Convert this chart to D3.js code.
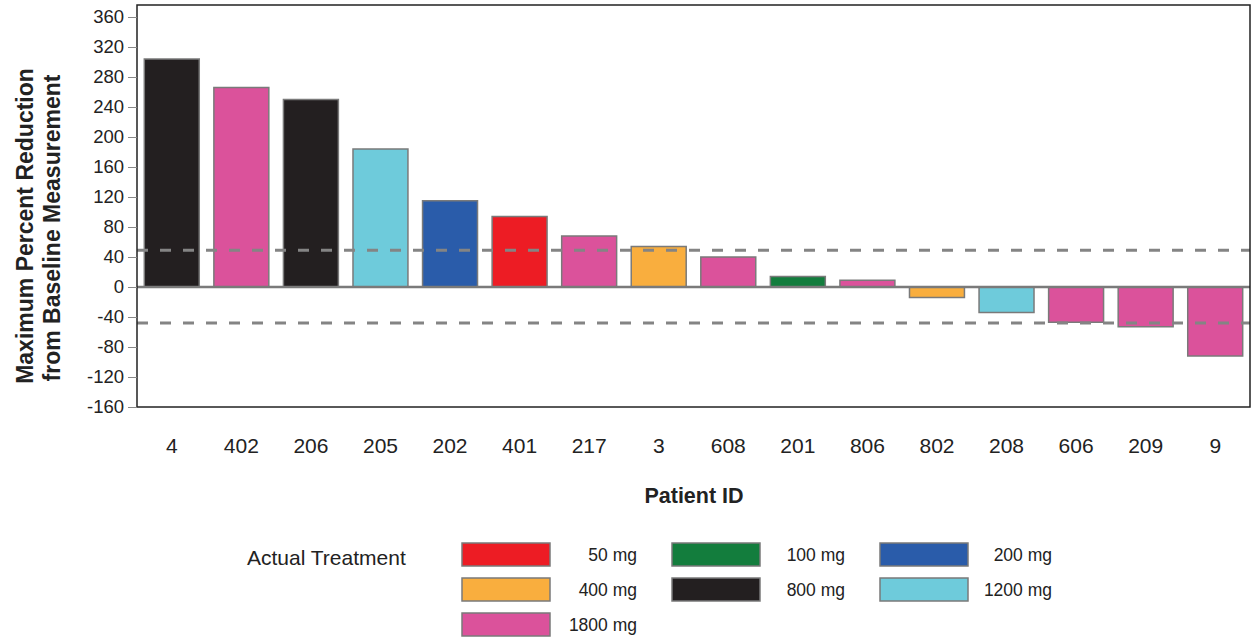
<!DOCTYPE html>
<html lang="en">
<head>
<meta charset="utf-8">
<title>Waterfall plot</title>
<script src="https://cdn.jsdelivr.net/npm/d3@7"></script>
<style>
body { margin: 0; background: #fff; font-family: "Liberation Sans", Arial, sans-serif; }
.tick text { font-family: "Liberation Sans", Arial, sans-serif; fill: #222; }
.axis-label { font-weight: bold; fill: #222; }
.legend text { fill: #222; }
</style>
</head>
<body>
<script>
// data
var patients = ["4", "402", "206", "205", "202", "401", "217", "3", "608", "201", "806", "802", "208", "606", "209", "9"];
var reduction = [304, 266, 250, 184, 115, 94, 68, 54, 40, 14, 9, -14, -34, -47, -53, -92];
var doses = ["800 mg", "1800 mg", "800 mg", "1200 mg", "200 mg", "50 mg", "1800 mg", "400 mg", "1800 mg", "100 mg", "1800 mg", "400 mg", "1200 mg", "1800 mg", "1800 mg", "1800 mg"];

var doseLevels = ["50 mg", "100 mg", "200 mg", "400 mg", "800 mg", "1200 mg", "1800 mg"];
var doseColors = ["#ed1c24", "#137d3d", "#2a5caa", "#f9ae3e", "#231f20", "#6ecbdb", "#db529b"];
var yTicks = [360, 320, 280, 240, 200, 160, 120, 80, 40, 0, -40, -80, -120, -160];
var thresholds = [49, -48];

var W = 1252, H = 641;
var plot = {left: 137, right: 1250, top: 5, bottom: 407};

var svg = d3.select("body").append("svg")
  .attr("width", W)
  .attr("height", H);

var color = d3.scaleOrdinal().domain(doseLevels).range(doseColors);

var x = d3.scaleBand()
  .domain(patients)
  .range([plot.left, plot.right])
  .paddingInner(0.21)
  .paddingOuter(0.105);

var y = d3.scaleLinear()
  .domain([-160, 376])
  .range([plot.bottom, plot.top]);

// bars
svg.append("g")
  .selectAll("rect")
  .data(patients)
  .enter()
  .append("rect")
    .attr("x", function(d) { return x(d); })
    .attr("width", x.bandwidth())
    .attr("y", function(d, i) { return y(Math.max(0, reduction[i])); })
    .attr("height", function(d, i) { return Math.abs(y(reduction[i]) - y(0)); })
    .attr("fill", function(d, i) { return color(doses[i]); })
    .attr("stroke", "#7a7a7a")
    .attr("stroke-width", 1.5);

// zero line
svg.append("line")
  .attr("x1", plot.left).attr("x2", plot.right)
  .attr("y1", y(0)).attr("y2", y(0))
  .attr("stroke", "#7a7a7a")
  .attr("stroke-width", 2.5);

// dashed response thresholds
svg.append("g")
  .selectAll("line")
  .data(thresholds)
  .enter()
  .append("line")
    .attr("x1", plot.left).attr("x2", plot.right)
    .attr("y1", function(d) { return y(d); })
    .attr("y2", function(d) { return y(d); })
    .attr("stroke", "#848484")
    .attr("stroke-width", 3)
    .attr("stroke-dasharray", "11,12");

// frame
svg.append("rect")
  .attr("x", plot.left).attr("y", plot.top)
  .attr("width", plot.right - plot.left)
  .attr("height", plot.bottom - plot.top)
  .attr("fill", "none")
  .attr("stroke", "#222")
  .attr("stroke-width", 1.5);

// y axis (plain hyphen for negatives, like the original)
var yAxis = d3.axisLeft(y)
  .tickValues(yTicks)
  .tickFormat(function(d) { return String(d); })
  .tickSize(9)
  .tickPadding(4);
var gy = svg.append("g")
  .attr("transform", "translate(" + plot.left + ",0)")
  .call(yAxis);
gy.select(".domain").remove();
gy.selectAll(".tick line").attr("stroke", "#888");
gy.selectAll(".tick text").style("font-size", "18.5px");

// x axis
var xAxis = d3.axisBottom(x).tickSize(0).tickPadding(0);
var gx = svg.append("g")
  .attr("transform", "translate(0,438)")
  .call(xAxis);
gx.select(".domain").remove();
gx.selectAll(".tick text").style("font-size", "21px");

// axis titles
svg.append("text")
  .attr("class", "axis-label")
  .attr("transform", "translate(33,226) rotate(-90)")
  .attr("text-anchor", "middle")
  .style("font-size", "23px")
  .text("Maximum Percent Reduction");

svg.append("text")
  .attr("class", "axis-label")
  .attr("transform", "translate(60,228) rotate(-90)")
  .attr("text-anchor", "middle")
  .style("font-size", "23px")
  .text("from Baseline Measurement");

svg.append("text")
  .attr("class", "axis-label")
  .attr("x", 694).attr("y", 503)
  .attr("text-anchor", "middle")
  .style("font-size", "21.5px")
  .text("Patient ID");

// legend
var legend = svg.append("g").attr("class", "legend");

legend.append("text")
  .attr("x", 247).attr("y", 565)
  .style("font-size", "21px")
  .text("Actual Treatment");

var colX = [462, 672, 880],
    labelX = [637, 845, 1052],
    rowY = [543, 578, 613],
    sw = 88, sh = 23;

var items = legend.selectAll("g.item")
  .data(doseLevels)
  .enter()
  .append("g")
  .attr("class", "item");

items.append("rect")
  .attr("x", function(d, i) { return colX[i % 3]; })
  .attr("y", function(d, i) { return rowY[Math.floor(i / 3)]; })
  .attr("width", sw)
  .attr("height", sh)
  .attr("fill", function(d) { return color(d); })
  .attr("stroke", "#7a7a7a")
  .attr("stroke-width", 1.5);

items.append("text")
  .attr("x", function(d, i) { return labelX[i % 3]; })
  .attr("y", function(d, i) { return rowY[Math.floor(i / 3)] + sh / 2 + 6; })
  .attr("text-anchor", "end")
  .style("font-size", "17.5px")
  .text(function(d) { return d; });
</script>
</body>
</html>
